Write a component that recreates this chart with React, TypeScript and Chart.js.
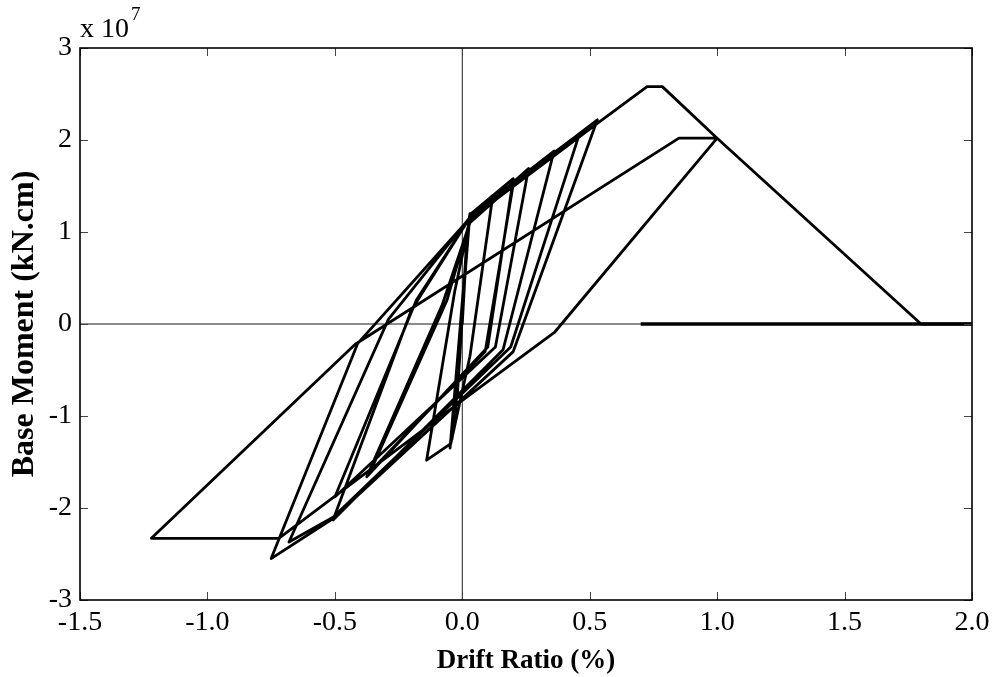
import { useEffect, useRef } from 'react';
import { Chart, registerables } from 'chart.js';

Chart.register(...registerables);

// Drift ratio (%) along the loading history
const driftRatio = [
  0, 0.01, -0.015, 0.015, -0.02, 0.02, -0.028, 0.025, -0.035, 0.028,
  -0.04, 0.03, -0.048, 0.028, 0.12, 0.03, -0.045, -0.14, -0.03, 0.035,
  0.2, 0.1, -0.375, -0.08, 0.03, 0.2, 0.09, -0.36, -0.06, 0.03,
  0.26, 0.13, -0.5, -0.18, 0.035, 0.36, 0.16, -0.507, -0.2, 0.04,
  0.46, 0.19, -0.507, -0.68, -0.29, 0.03, 0.53, 0.2, -0.51, -0.75,
  -0.41, 0.02, 0.53, 0.725, 0.785, 1.0, 0.363, 0.02, -0.72, -1.22,
  -0.42, 0.85, 1.0, 1.8, 2.0,
];
// Base moment (x 10^7 kN.cm)
const baseMoment = [
  0, 0.5, -0.55, 0.8, -0.8, 0.95, -1.0, 1.1, -1.15, 1.15,
  -1.25, 1.2, -1.35, 1.17, 1.4, -0.35, -1.3, -1.48, 0.35, 1.2,
  1.58, -0.25, -1.66, 0.2, 1.1, 1.52, -0.3, -1.6, 0.26, 1.12,
  1.69, -0.25, -1.88, 0.26, 1.18, 1.88, -0.28, -2.13, 0.15, 1.2,
  2.07, -0.25, -2.1, -2.37, 0.05, 1.16, 2.22, -0.3, -2.12, -2.55,
  -0.21, 1.12, 2.18, 2.58, 2.58, 2.02, -0.087, -0.79, -2.33, -2.33,
  -0.22, 2.02, 2.02, 0, 0,
];
// Residual (post-failure) branch
const residualDrift = [0.7, 2.0];
const residualMoment = [0, 0];

// Reference zero lines
const zeroLineXDrift = [-1.5, 2.0];
const zeroLineXMoment = [0, 0];
const zeroLineYDrift = [0, 0];
const zeroLineYMoment = [-3, 3];

const xTicks = [-1.5, -1.0, -0.5, 0.0, 0.5, 1.0, 1.5, 2.0];
const yTicks = [-3, -2, -1, 0, 1, 2, 3];
const exponentLabel = 'x 10';
const exponentPower = '7';
const xTitle = 'Drift Ratio (%)';
const yTitle = 'Base Moment (kN.cm)';

const SERIF = "'Liberation Serif', 'Times New Roman', Times, serif";

function toPoints(xs: number[], ys: number[]) {
  return xs.map((x, i) => ({ x, y: ys[i] }));
}

export default function App() {
  const ref = useRef<HTMLCanvasElement>(null);

  useEffect(() => {
    if (!ref.current) return;

    const framePlugin = {
      id: 'frame',
      afterDraw(chart: any) {
        const { ctx, chartArea } = chart;
        const { left, right, top, bottom } = chartArea;
        const xs = chart.scales.x;
        const ys = chart.scales.y;
        ctx.save();
        ctx.strokeStyle = '#444';
        ctx.lineWidth = 1;
        ctx.beginPath();
        const tl = 8;
        for (const t of xTicks) {
          const px = Math.round(xs.getPixelForValue(t)) + 0.5;
          ctx.moveTo(px, bottom);
          ctx.lineTo(px, bottom - tl);
          ctx.moveTo(px, top);
          ctx.lineTo(px, top + tl);
        }
        for (const t of yTicks) {
          const py = Math.round(ys.getPixelForValue(t)) + 0.5;
          ctx.moveTo(left, py);
          ctx.lineTo(left + tl, py);
          ctx.moveTo(right, py);
          ctx.lineTo(right - tl, py);
        }
        ctx.stroke();
        ctx.strokeStyle = '#000';
        ctx.lineWidth = 1.6;
        ctx.strokeRect(left, top, right - left, bottom - top);

        ctx.fillStyle = '#000';
        ctx.textAlign = 'left';
        ctx.textBaseline = 'alphabetic';
        ctx.font = `28px ${SERIF}`;
        ctx.fillText(exponentLabel, left, top - 11);
        const w = ctx.measureText(exponentLabel).width;
        ctx.font = `19px ${SERIF}`;
        ctx.fillText(exponentPower, left + w + 2, top - 28);
        ctx.restore();
      },
    };

    const chart = new Chart(ref.current, {
      type: 'scatter',
      data: {
        datasets: [
          {
            label: 'Hysteresis',
            data: toPoints(driftRatio, baseMoment),
            showLine: true,
            borderColor: '#000',
            borderWidth: 2.8,
            pointRadius: 0,
            borderJoinStyle: 'round',
            fill: false,
            tension: 0,
          },
          {
            label: 'Residual',
            data: toPoints(residualDrift, residualMoment),
            showLine: true,
            borderColor: '#000',
            borderWidth: 3.6,
            pointRadius: 0,
            fill: false,
          },
          {
            label: 'zeroX',
            data: toPoints(zeroLineXDrift, zeroLineXMoment),
            showLine: true,
            borderColor: '#666',
            borderWidth: 1.4,
            pointRadius: 0,
            fill: false,
          },
          {
            label: 'zeroY',
            data: toPoints(zeroLineYDrift, zeroLineYMoment),
            showLine: true,
            borderColor: '#222',
            borderWidth: 1,
            pointRadius: 0,
            fill: false,
          },
        ],
      },
      options: {
        animation: false,
        responsive: false,
        maintainAspectRatio: false,
        layout: { padding: { top: 48, right: 24, left: 0, bottom: 0 } },
        plugins: {
          legend: { display: false },
          tooltip: { enabled: false },
          title: { display: false },
        },
        scales: {
          x: {
            type: 'linear',
            min: -1.5,
            max: 2.0,
            afterFit: (s: any) => {
              s.height = 77;
            },
            afterBuildTicks: (s: any) => {
              s.ticks = xTicks.map((v) => ({ value: v }));
            },
            grid: { display: false, drawTicks: false },
            border: { display: false },
            ticks: {
              autoSkip: false,
              maxRotation: 0,
              padding: 6,
              color: '#000',
              font: { family: SERIF, size: 28 },
              callback: (v: any) => Number(v).toFixed(1),
            },
            title: {
              display: true,
              text: xTitle,
              color: '#000',
              font: { family: SERIF, size: 27, weight: 'bold' },
              padding: { top: 0, bottom: 0 },
            },
          },
          y: {
            type: 'linear',
            min: -3,
            max: 3,
            afterFit: (s: any) => {
              s.width = 80;
            },
            afterBuildTicks: (s: any) => {
              s.ticks = yTicks.map((v) => ({ value: v }));
            },
            grid: { display: false, drawTicks: false },
            border: { display: false },
            ticks: {
              autoSkip: false,
              padding: 8,
              color: '#000',
              font: { family: SERIF, size: 28 },
              callback: (v: any) => String(v),
            },
            title: {
              display: true,
              text: yTitle,
              color: '#000',
              font: { family: SERIF, size: 32, weight: 'bold' },
              padding: { top: 6, bottom: 0 },
            },
          },
        },
      },
      plugins: [framePlugin],
    });

    return () => chart.destroy();
  }, []);

  return (
    <div style={{ position: 'absolute', left: 0, top: 0, width: 996, height: 677, background: '#fff' }}>
      <canvas ref={ref} width={996} height={677} style={{ display: 'block' }} />
    </div>
  );
}
